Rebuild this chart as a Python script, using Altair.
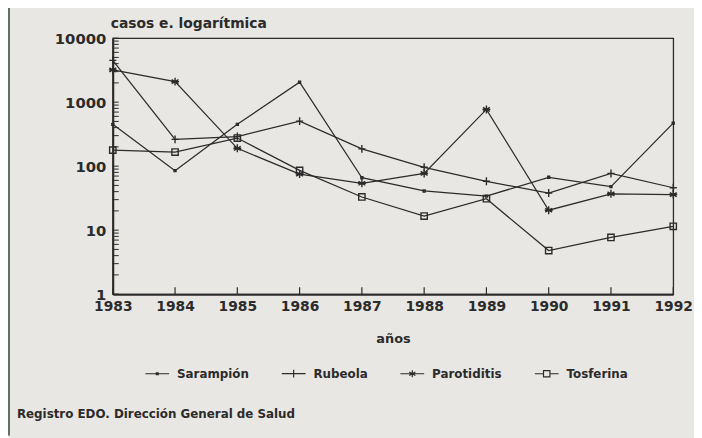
import altair as alt
import pandas as pd

# ---- data ----
years = [1983, 1984, 1985, 1986, 1987, 1988, 1989, 1990, 1991, 1992]
sarampion = [450, 85, 450, 2050, 66, 41, 34, 67, 48, 470]
rubeola = [4500, 262, 290, 505, 186, 96, 58, 38, 77, 46]
parotiditis = [3200, 2090, 190, 75, 54, 77, 770, 20.5, 37, 36]
tosferina = [178, 166, 275, 86, 33, 16.6, 31, 4.8, 7.7, 11.5]
series_names = ["Sarampión", "Rubeola", "Parotiditis", "Tosferina"]
y_labels = [1, 10, 100, 1000, 10000]
y_ticks = [m * 10 ** k for k in range(4) for m in range(1, 10)] + [10000]
title_text = ["casos e. logarítmica"]
source_text = ["Registro EDO. Dirección General de Salud"]

# ---- marker shapes (unit paths) ----
marker_paths = [
    "M-0.25,-0.25L0.25,-0.25L0.25,0.25L-0.25,0.25Z",
    "M0,-1L0,1M-0.9,0L0.9,0",
    "M0,-1L0,1M-0.87,-0.5L0.87,0.5M-0.87,0.5L0.87,-0.5M-1,0L1,0",
    "M-0.8,-0.8L0.8,-0.8L0.8,0.8L-0.8,0.8Z",
]
legend_paths = [
    "M-1,0L1,0M-0.08,-0.08L0.08,-0.08L0.08,0.08L-0.08,0.08Z",
    "M-1,0L1,0M0,-0.33L0,0.33",
    "M-1,0L1,0M0,-0.3L0,0.3M-0.26,-0.15L0.26,0.15M-0.26,0.15L0.26,-0.15",
    "M-1,0L-0.27,0M0.27,0L1,0M-0.27,-0.27L0.27,-0.27L0.27,0.27L-0.27,0.27Z",
]

rows = []
for name, vals in zip(series_names, [sarampion, rubeola, parotiditis, tosferina]):
    for yr, v in zip(years, vals):
        rows.append({"año": yr, "casos": v, "serie": name})
df = pd.DataFrame(rows)

W, H = 567, 259
INK = "#2b2b2b"
FONT = "DejaVu Sans"
BG = "#e9e7e3"

x_scale = alt.Scale(domain=[1983, 1992], nice=False, zero=False)
y_scale = alt.Scale(type="log", domain=[1, 10000], nice=False)

x_enc = alt.X(
    "año:Q",
    scale=x_scale,
    axis=alt.Axis(
        values=years, format="d", title="años", tickSize=0, labelPadding=6,
        grid=False, domainWidth=2, domainColor=INK, labelFlush=False,
        labelFont=FONT, labelFontSize=14, labelFontWeight="bold", labelColor=INK,
        titleFont=FONT, titleFontSize=13, titleFontWeight="bold", titleColor=INK,
        titlePadding=19,
    ),
)
y_enc = alt.Y(
    "casos:Q",
    scale=y_scale,
    axis=alt.Axis(
        values=y_labels, format="d", title=None, tickSize=0, labelPadding=7,
        grid=False, domainWidth=2, domainColor=INK,
        labelFont=FONT, labelFontSize=15, labelFontWeight="bold", labelColor=INK,
    ),
)

lines = alt.Chart(df).mark_line(color=INK, strokeWidth=1.25).encode(
    x=x_enc, y=y_enc, detail="serie:N"
)

points = alt.Chart(df).mark_point(
    filled=False, color=INK, strokeWidth=1.4, size=64, opacity=1
).encode(
    x="año:Q",
    y="casos:Q",
    shape=alt.Shape(
        "serie:N",
        scale=alt.Scale(domain=series_names, range=marker_paths),
        legend=None,
    ),
)

legend_layer = alt.Chart(df).transform_filter("false").mark_point(
    filled=False, color=INK, strokeWidth=1.2, size=576, opacity=1
).encode(
    x="año:Q",
    y="casos:Q",
    shape=alt.Shape(
        "serie:N",
        scale=alt.Scale(domain=series_names, range=legend_paths),
        legend=alt.Legend(
            orient="none", legendX=32, legendY=326, direction="horizontal",
            title=None, symbolSize=576, symbolStrokeColor=INK,
            symbolStrokeWidth=1.2, symbolFillColor="transparent",
            labelFont=FONT, labelFontSize=12, labelFontWeight="bold",
            labelColor=INK, labelOffset=7, columnPadding=30, padding=0,
        ),
    ),
)

yticks = alt.Chart(pd.DataFrame({"casos": y_ticks})).mark_rule(
    color=INK, strokeWidth=1
).encode(y="casos:Q", x=alt.value(0), x2=alt.value(6))

xticks = alt.Chart(pd.DataFrame({"año": years})).mark_rule(
    color=INK, strokeWidth=1.2
).encode(x="año:Q", y=alt.value(H), y2=alt.value(H - 7))

title = alt.Chart(pd.DataFrame({"t": title_text})).mark_text(
    align="left", baseline="alphabetic", font=FONT, fontSize=14,
    fontWeight="bold", color=INK
).encode(text="t:N", x=alt.value(-2), y=alt.value(-10))

source = alt.Chart(pd.DataFrame({"t": source_text})).mark_text(
    align="left", baseline="middle", font=FONT, fontSize=12,
    fontWeight="bold", color=INK
).encode(text="t:N", x=alt.value(17 - 114), y=alt.value(416 - 36))

edge = alt.Chart(pd.DataFrame({"k": [0]})).mark_rule(
    color="#5f6f5f", strokeWidth=2
).encode(x=alt.value(9 - 114), y=alt.value(-36), y2=alt.value(438 - 36))

chart = alt.layer(
    edge, lines, points, legend_layer, yticks, xticks, title, source
).resolve_scale(shape="independent").properties(
    width=W,
    height=H,
    padding={"left": 106, "top": 28, "right": 21, "bottom": 143},
    autosize=alt.AutoSizeParams(type="none"),
).configure(background=BG).configure_view(stroke=INK, strokeWidth=1.3)

chart.save("out.html", embed_options={"renderer": "svg", "actions": False})
